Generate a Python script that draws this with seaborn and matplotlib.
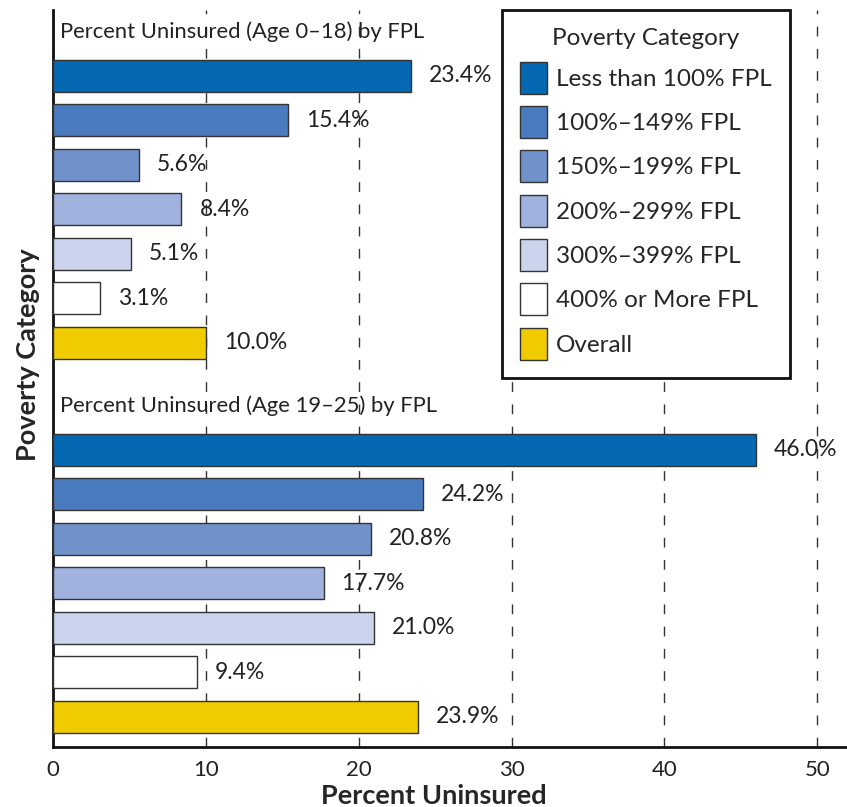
import numpy as np
import pandas as pd
import matplotlib
matplotlib.use('Agg')
import matplotlib.pyplot as plt
import seaborn as sns

#### data ####################################################################
categories = ['Less than 100% FPL', '100%–149% FPL', '150%–199% FPL',
              '200%–299% FPL', '300%–399% FPL', '400% or More FPL', 'Overall']
age_0_18 = [23.4, 15.4, 5.6, 8.4, 5.1, 3.1, 10.0]
age_19_25 = [46.0, 24.2, 20.8, 17.7, 21.0, 9.4, 23.9]
group_titles = ['Percent Uninsured (Age 0–18) by FPL',
                'Percent Uninsured (Age 19–25) by FPL']
colors = ['#0568b3', '#4b7bbf', '#7191cb', '#a0b2dd', '#cbd4ec', '#ffffff', '#f0cb00']

#### layout: row positions (group 2 starts after a gap) ###################
group_offset = 8.4
rows = []
for g, vals in enumerate([age_0_18, age_19_25]):
    for i, (cat, v) in enumerate(zip(categories, vals)):
        rows.append({'category': cat, 'value': v, 'pos': i + g * group_offset})
df = pd.DataFrame(rows)

sns.set_style('white')
plt.rcParams['font.family'] = ['Lato', 'DejaVu Sans']

fig = plt.figure(figsize=(8.47, 8.07), dpi=100)
ax = fig.add_axes([53 / 847, 1 - 747 / 807, 794 / 847, 737 / 807])

sns.barplot(data=df, x='value', y='pos', hue='category', hue_order=categories,
            palette=colors, saturation=1, orient='h', native_scale=True, dodge=False,
            width=0.72, edgecolor='#333333', linewidth=1.0, ax=ax, zorder=3)

for cont in ax.containers:
    ax.bar_label(cont, fmt='%.1f%%', padding=13, fontsize=16.5, color='#222222')

# dashed grid lines
for xv in [10, 20, 30, 40, 50]:
    ax.axvline(xv, color='#333333', linewidth=1.0, linestyle=(0, (7, 9)), zorder=1)

# group headings
for g, title in enumerate(group_titles):
    ax.text(0.45, -0.99 + g * group_offset, title, fontsize=15.8, va='center',
            ha='left', color='#222222', zorder=4)

ax.set_xlim(0, 51.95)
ax.set_ylim(15.08, -1.48)
ax.set_xticks([0, 10, 20, 30, 40, 50])
ax.set_yticks([])
ax.tick_params(axis='x', length=0, pad=9, labelsize=16, labelcolor='#222222')
ax.set_xlabel('Percent Uninsured', fontsize=19.5, fontweight='bold')
ax.set_ylabel('Poverty Category', fontsize=19.5, fontweight='bold')
ax.xaxis.set_label_coords(0.48, -0.05)
ax.yaxis.set_label_coords(-0.016, 0.532)

for side in ['top', 'right']:
    ax.spines[side].set_visible(False)
for side in ['left', 'bottom']:
    ax.spines[side].set_color('#111111')
    ax.spines[side].set_linewidth(2)

handles, labels = ax.get_legend_handles_labels()
leg = ax.legend(handles, labels, title='Poverty Category', loc='upper right',
                bbox_to_anchor=(0.928, 1.0), borderaxespad=0, fontsize=17.5,
                title_fontsize=17.5, handlelength=1.11, handleheight=1.645,
                labelspacing=0.51, handletextpad=0.35, borderpad=0.75,
                fancybox=False, framealpha=1, edgecolor='#111111')
leg.get_frame().set_linewidth(2)

fig.savefig('out.png', dpi=100)
